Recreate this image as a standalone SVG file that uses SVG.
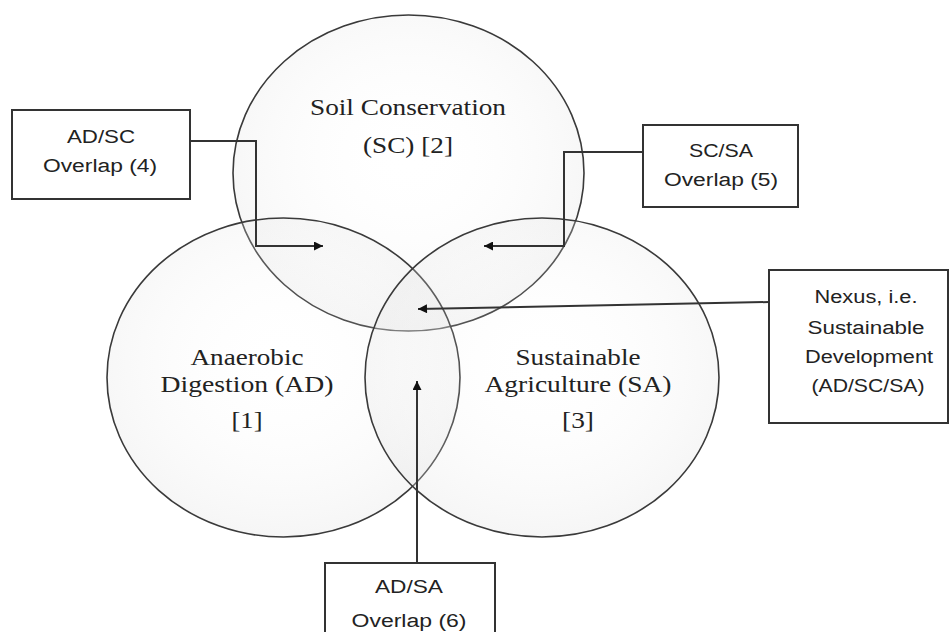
<svg xmlns="http://www.w3.org/2000/svg" width="952" height="632" viewBox="0 0 952 632">
  <defs>
    <radialGradient id="fillG" cx="50%" cy="45%" r="55%">
      <stop offset="0%" stop-color="#ffffff" stop-opacity="0"/>
      <stop offset="100%" stop-color="#e0e0e0" stop-opacity="0.3"/>
    </radialGradient>
    <marker id="arr" viewBox="0 0 10 10" refX="10" refY="5" markerWidth="11" markerHeight="9" markerUnits="userSpaceOnUse" orient="auto">
      <path d="M0,0 L10,5 L0,10 z" fill="#111"/>
    </marker>
    <style>
      .circ { fill: url(#fillG); stroke: #3a3a3a; stroke-width: 1.6; }
      .box { fill: #ffffff; stroke: #333; stroke-width: 2; }
      .conn { fill: none; stroke: #333; stroke-width: 2; marker-end: url(#arr); }
      .ser { font-family: "Liberation Serif", "Times New Roman", serif; font-size: 23px; fill: #222; text-anchor: middle; }
      .san { font-family: "Liberation Sans", Arial, sans-serif; font-size: 18px; fill: #222; text-anchor: middle; }
    </style>
  </defs>
  <rect width="952" height="632" fill="#ffffff"/>

  <g id="circle-sc">
    <ellipse class="circ" cx="408.5" cy="173" rx="175.5" ry="158"/>
    <text class="ser" x="408" y="115" textLength="196" lengthAdjust="spacingAndGlyphs">Soil Conservation</text>
    <text class="ser" x="408" y="153" textLength="90" lengthAdjust="spacingAndGlyphs">(SC) [2]</text>
  </g>
  <g id="circle-ad">
    <ellipse class="circ" cx="283.5" cy="377.5" rx="176.5" ry="159.5"/>
    <text class="ser" x="247" y="365" textLength="113" lengthAdjust="spacingAndGlyphs">Anaerobic</text>
    <text class="ser" x="247" y="392" textLength="173" lengthAdjust="spacingAndGlyphs">Digestion (AD)</text>
    <text class="ser" x="247" y="428" textLength="31" lengthAdjust="spacingAndGlyphs">[1]</text>
  </g>
  <g id="circle-sa">
    <ellipse class="circ" cx="542" cy="377.5" rx="177" ry="159.5"/>
    <text class="ser" x="578" y="365" textLength="125" lengthAdjust="spacingAndGlyphs">Sustainable</text>
    <text class="ser" x="578" y="392" textLength="187" lengthAdjust="spacingAndGlyphs">Agriculture (SA)</text>
    <text class="ser" x="578" y="428" textLength="32" lengthAdjust="spacingAndGlyphs">[3]</text>
  </g>

  <g id="connectors">
    <path class="conn" d="M190,141 H256 V246 H323"/>
    <path class="conn" d="M643,152 H564 V246 H484"/>
    <path class="conn" d="M769,302 L418,309"/>
    <path class="conn" d="M417,563 V381"/>
  </g>

  <g id="box-adsc">
    <rect class="box" x="12" y="110" width="178" height="89"/>
    <text class="san" x="101" y="143" textLength="68" lengthAdjust="spacingAndGlyphs">AD/SC</text>
    <text class="san" x="100" y="172" textLength="114" lengthAdjust="spacingAndGlyphs">Overlap (4)</text>
  </g>
  <g id="box-scsa">
    <rect class="box" x="643" y="125" width="155" height="82"/>
    <text class="san" x="721" y="157" textLength="64" lengthAdjust="spacingAndGlyphs">SC/SA</text>
    <text class="san" x="721" y="186" textLength="114" lengthAdjust="spacingAndGlyphs">Overlap (5)</text>
  </g>
  <g id="box-nexus">
    <rect class="box" x="769" y="270" width="179" height="153"/>
    <text class="san" x="866" y="303" textLength="103" lengthAdjust="spacingAndGlyphs">Nexus, i.e.</text>
    <text class="san" x="866" y="334" textLength="117" lengthAdjust="spacingAndGlyphs">Sustainable</text>
    <text class="san" x="869" y="363" textLength="128" lengthAdjust="spacingAndGlyphs">Development</text>
    <text class="san" x="868" y="392" textLength="113" lengthAdjust="spacingAndGlyphs">(AD/SC/SA)</text>
  </g>
  <g id="box-adsa">
    <rect class="box" x="325" y="563" width="170" height="80"/>
    <text class="san" x="409" y="593" textLength="68" lengthAdjust="spacingAndGlyphs">AD/SA</text>
    <text class="san" x="409" y="627" textLength="115" lengthAdjust="spacingAndGlyphs">Overlap (6)</text>
  </g>
</svg>
